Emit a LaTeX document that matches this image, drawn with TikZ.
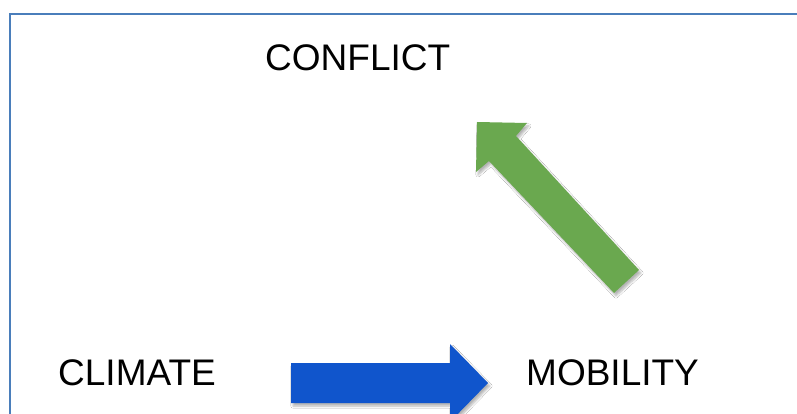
\documentclass[tikz,border=0pt]{standalone}
\usepackage{fontspec}
\setmainfont{Liberation Sans}
\usetikzlibrary{shadows.blur}
\definecolor{FrameBlue}{RGB}{74,126,187}
\definecolor{ArrowBlue}{RGB}{16,85,204}
\definecolor{ArrowGreen}{RGB}{106,168,79}
\tikzset{
  word/.style={inner sep=0pt,anchor=base west,font=\fontsize{37}{40}\selectfont},
  blockarrow/.style={draw=none,blur shadow={shadow xshift=2pt,shadow yshift=-3pt,
    shadow blur steps=6,shadow opacity=30}}
}
\begin{document}
\begin{tikzpicture}[x=1pt,y=-1pt]
  \useasboundingbox (0,0) rectangle (797,414);
  \fill[white] (0,0) rectangle (797,414);
  \clip (0,0) rectangle (797,414);
  % frame
  \draw[FrameBlue,line width=2.6pt] (10,430) -- (10,14) -- (810,14);
  % words
  \foreach \n/\t/\x/\y in {conflict/CONFLICT/265/71,climate/CLIMATE/58/385,mobility/MOBILITY/526/385}{
    \node[word] (\n) at (\x,\y) {\t};}
  % block arrows
  \fill[ArrowBlue,blockarrow] (291,363) -- (450,363) -- (450,344) -- (488,383)
    -- (450,422) -- (450,403) -- (291,403) -- cycle;
  \fill[ArrowGreen,blockarrow] (477,122) -- (527,123) -- (516,136) -- (639,270)
    -- (614,293) -- (489,161) -- (476,172) -- cycle;
\end{tikzpicture}
\end{document}
